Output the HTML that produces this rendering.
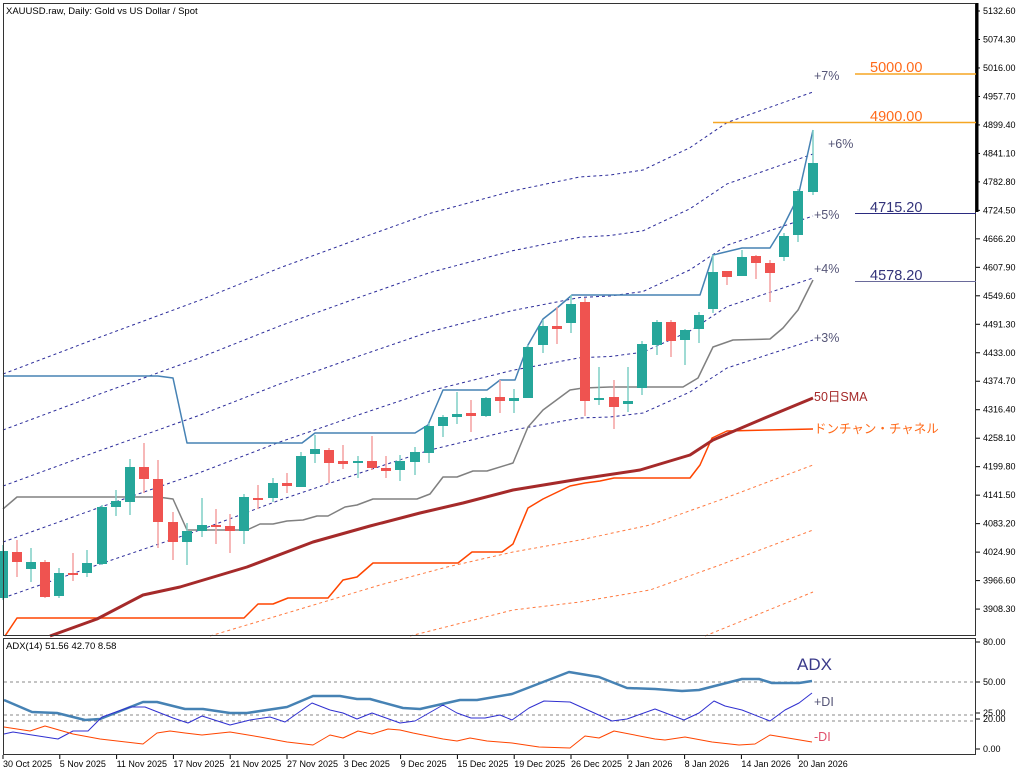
<!DOCTYPE html>
<html><head><meta charset="utf-8"><style>
html,body{margin:0;padding:0;background:#fff;}
svg{display:block;font-family:"Liberation Sans","Noto Sans CJK JP",sans-serif;}
</style></head><body>
<svg id="s" width="1024" height="773" viewBox="0 0 1024 773" xmlns="http://www.w3.org/2000/svg">
<rect width="1024" height="773" fill="#fff"/>
<g id="g"></g>
<!-- frames -->
<rect x="3.5" y="3.5" width="972" height="632" fill="none" stroke="#333" stroke-width="1"/>
<rect x="3.5" y="638.5" width="972" height="116" fill="none" stroke="#333" stroke-width="1"/>
<line x1="977" y1="3" x2="977" y2="212" stroke="#000" stroke-width="3"/>
<text x="6" y="14" font-size="9.5" fill="#000">XAUUSD.raw, Daily:  Gold vs US Dollar / Spot</text>
<text x="6" y="649" font-size="9.5" fill="#000">ADX(14) 51.56 42.70 8.58</text>
<!-- horizontal levels -->
<line x1="855" y1="74" x2="976" y2="74" stroke="#f5a623" stroke-width="1.5"/>
<line x1="713" y1="122.5" x2="976" y2="122.5" stroke="#f5a623" stroke-width="1.5"/>
<line x1="855" y1="213.5" x2="976" y2="213.5" stroke="#2b2b80" stroke-width="1"/>
<line x1="855" y1="281.5" x2="976" y2="281.5" stroke="#6a6a9a" stroke-width="1"/>
<g font-size="14.5" fill="#ff6a1a">
<text x="870" y="72">5000.00</text>
<text x="870" y="121">4900.00</text>
</g>
<g font-size="14.5" fill="#33337a">
<text x="870" y="212">4715.20</text>
<text x="870" y="280">4578.20</text>
</g>
<g font-size="12.5" fill="#555577">
<text x="814" y="80">+7%</text>
<text x="828" y="148">+6%</text>
<text x="814" y="219">+5%</text>
<text x="814" y="273">+4%</text>
<text x="814" y="342">+3%</text>
</g>
<text x="814" y="401" font-size="12.5" fill="#a52a2a">50日SMA</text>
<text x="814" y="433" font-size="12.5" fill="#ff6a1a">ドンチャン・チャネル</text>
<text x="797" y="670" font-size="17" fill="#3a3a8a">ADX</text>
<text x="814" y="706" font-size="12.5" fill="#555577">+DI</text>
<text x="814" y="741" font-size="12.5" fill="#e0506a">-DI</text>
<g font-size="9" fill="#000" id="ax"></g>
</svg>
<script>
const g=document.getElementById('g'),ax=document.getElementById('ax');
const NS='http://www.w3.org/2000/svg';
function el(t,a,p){const e=document.createElementNS(NS,t);for(const k in a)e.setAttribute(k,a[k]);(p||g).appendChild(e);return e;}
function pl(pts,a){el('polyline',Object.assign({points:pts.map(p=>p.join(',')).join(' '),fill:'none','stroke-linejoin':'round'},a));}
// axis labels
const pr=[5132.6,5074.3,5016.0,4957.7,4899.4,4841.1,4782.8,4724.5,4666.2,4607.9,4549.6,4491.3,4433.0,4374.7,4316.4,4258.1,4199.8,4141.5,4083.2,4024.9,3966.6,3908.3];
pr.forEach((p,i)=>{const y=11+i*28.48;el('line',{x1:976,y1:y,x2:980,y2:y,stroke:'#000'},ax);const t=el('text',{x:983,y:y+3},ax);t.textContent=p.toFixed(2);});
[[80,642],[50,682],[25,713],[20,719],[0,749]].forEach(([v,y])=>{el('line',{x1:976,y1:y,x2:980,y2:y,stroke:'#000'},ax);const t=el('text',{x:983,y:y+3},ax);t.textContent=v.toFixed(2);});
const dates=['30 Oct 2025','5 Nov 2025','11 Nov 2025','17 Nov 2025','21 Nov 2025','27 Nov 2025','3 Dec 2025','9 Dec 2025','15 Dec 2025','19 Dec 2025','26 Dec 2025','2 Jan 2026','8 Jan 2026','14 Jan 2026','20 Jan 2026'];
dates.forEach((d,i)=>{const x=3+i*56.8;el('line',{x1:x,y1:755,x2:x,y2:759,stroke:'#000'},ax);const t=el('text',{x:x,y:767},ax);t.textContent=d;});
// ADX grid
[682,715,721].forEach(y=>el('line',{x1:4,y1:y,x2:975,y2:y,stroke:'#888','stroke-dasharray':'3,3'}));
// navy dashed bands
const b3=[[3,598],[100,564],[200,530],[280,500],[360,473],[430,450],[513,430],[580,418],[610,417],[643,413],[690,392],[727,368],[770,354],[813,340]];
for(let k=0;k<5;k++){pl(b3.map(([x,y])=>[x,y-k*(56+6*(x-3)/810)]),{stroke:'#2b2b9a','stroke-width':1,'stroke-dasharray':'3,3'});}
// orange dashed lower
pl([[210,636],[297,610],[380,585],[447,567],[513,552],[580,540],[650,525],[720,500],[813,465]],{stroke:'#ff7a40','stroke-width':1,'stroke-dasharray':'3,3'});
pl([[410,636],[513,610],[580,602],[650,590],[720,565],[813,530]],{stroke:'#ff7a40','stroke-width':1,'stroke-dasharray':'3,3'});
pl([[705,636],[813,592]],{stroke:'#ff7a40','stroke-width':1,'stroke-dasharray':'3,3'});
// donchian lower
pl([[5,636],[17,618],[244,618],[258,604],[273,604],[288,598],[328,598],[343,580],[357,577],[373,563],[458,563],[472,552],[502,552],[513,544],[528,508],[543,499],[570,486],[585,483],[600,481],[614,478],[690,478],[700,465],[712,438],[727,431],[813,429]],{stroke:'#ff4500','stroke-width':1.5});
// SMA
pl([[50,636],[97,619],[143,595],[180,587],[247,567],[313,542],[370,526],[420,513],[463,503],[513,490],[580,479],[640,470],[690,455],[713,440],[760,420],[813,398]],{stroke:'#a52a2a','stroke-width':3});
// gray middle
pl([[3,509],[17,497],[158,497],[173,499],[187,530],[247,530],[260,524],[273,524],[287,521],[303,520],[317,516],[328,516],[345,507],[357,505],[373,499],[417,499],[430,494],[443,477],[457,477],[473,471],[487,471],[513,463],[528,427],[543,410],[570,390],[583,388],[610,387],[683,387],[698,378],[713,347],[733,340],[770,339],[783,328],[798,310],[813,280]],{stroke:'#808080','stroke-width':1.5});
// donchian upper
pl([[3,376],[158,376],[173,378],[187,443],[302,443],[315,433],[415,433],[428,425],[443,390],[487,390],[500,380],[515,380],[528,345],[543,319],[557,308],[572,295],[700,295],[713,255],[742,248],[770,248],[783,227],[798,197],[813,130]],{stroke:'#4682b4','stroke-width':1.5});
// candles x,o,c,h,l (y px)
const C=[[3,598,551,545,600],[17,552,562,540,577],[31,569,562,548,582],[45,562,597,560,598],[59,596,573,568,598],[73,573,574,553,581],[87,573,563,550,577],[102,564,507,505,565],[116,507,501,490,516],[130,502,467,459,515],[144,467,479,443,493],[158,479,522,460,548],[173,522,542,512,560],[187,542,531,523,565],[202,531,525,498,537],[216,525,526,509,544],[230,526,531,514,553],[244,531,497,494,544],[258,498,499,485,509],[273,498,483,478,502],[287,483,486,473,493],[301,487,456,452,487],[315,454,449,435,463],[329,450,463,448,483],[343,461,464,445,469],[358,463,461,456,478],[372,461,468,436,470],[386,468,471,456,478],[400,470,461,455,481],[415,462,452,447,475],[429,453,426,423,463],[443,426,417,415,437],[457,417,414,392,424],[471,413,416,400,432],[486,416,398,397,417],[500,397,401,380,413],[514,401,398,389,413],[528,398,347,345,398],[543,345,326,320,353],[557,326,329,307,344],[571,323,304,295,333],[585,302,401,298,416],[599,400,398,367,405],[614,397,407,380,429],[628,404,401,367,412],[642,388,344,341,395],[657,345,322,320,355],[671,322,341,320,357],[685,340,330,329,365],[699,329,315,312,343],[713,309,272,255,313],[727,271,277,271,285],[742,276,257,250,276],[756,256,263,255,279],[770,263,273,260,302],[784,257,236,233,261],[798,235,191,189,242],[813,192,163,130,195]];
C.forEach(([x,o,c,h,l])=>{const up=c<=o;const col=up?'#26a69a':'#ef5350';const wc=up?'#7fcfc6':'#f4a0a0';
el('line',{x1:x,y1:h,x2:x,y2:l,stroke:wc,'stroke-width':1.5});
const t=Math.min(o,c),bh=Math.max(2,Math.abs(o-c));el('rect',{x:x-5,y:t,width:10,height:bh,fill:col});});
// ADX
pl([[4,700],[32,712],[57,713],[85,720],[100,719],[143,702],[157,702],[185,709],[203,709],[230,713],[247,713],[287,707],[313,696],[340,696],[357,699],[370,699],[403,708],[420,709],[460,700],[477,700],[512,694],[569,672],[599,677],[627,688],[655,689],[682,691],[699,690],[742,679],[759,679],[772,683],[799,683],[812,681]],{stroke:'#4682b4','stroke-width':2.5});
pl([[4,734],[13,732],[32,735],[58,739],[73,731],[88,731],[102,717],[130,707],[145,707],[173,718],[188,723],[202,716],[230,725],[250,720],[270,717],[285,722],[312,703],[330,710],[343,713],[357,719],[372,713],[400,723],[415,721],[443,705],[457,713],[471,718],[485,718],[500,715],[512,720],[529,708],[544,701],[570,702],[612,721],[627,719],[655,709],[684,720],[699,713],[714,701],[725,706],[742,710],[770,721],[785,710],[799,703],[812,693]],{stroke:'#3030d0','stroke-width':1});
pl([[4,727],[30,731],[45,726],[73,734],[100,739],[143,744],[157,733],[170,731],[185,733],[202,735],[230,732],[260,737],[287,742],[313,745],[330,735],[343,738],[358,731],[372,734],[388,729],[400,730],[413,733],[443,739],[457,741],[470,738],[487,741],[512,743],[539,747],[570,748],[585,736],[599,738],[614,731],[655,739],[665,740],[685,737],[712,742],[739,745],[755,744],[770,735],[812,742]],{stroke:'#ff4500','stroke-width':1});
</script>
</body></html>
